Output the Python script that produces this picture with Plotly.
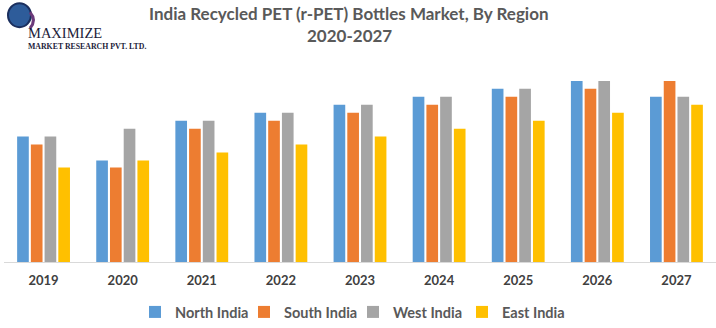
import plotly.graph_objects as go

years = ["2019", "2020", "2021", "2022", "2023", "2024", "2025", "2026", "2027"]
north = [126, 102, 142, 150, 158, 166, 174, 182, 166]
south = [118, 95, 134, 142, 150, 158, 166, 174, 182]
west = [126, 134, 142, 150, 158, 166, 174, 182, 166]
east = [95, 102, 110, 118, 126, 134, 142, 150, 158]

series = [
    ("North India", north, "#5B9BD5"),
    ("South India", south, "#ED7D31"),
    ("West India", west, "#A5A5A5"),
    ("East India", east, "#FFC000"),
]

fig = go.Figure()
for name, vals, col in series:
    fig.add_trace(go.Bar(x=years, y=vals, name=name, marker_color=col,
                         marker_line_width=0))

txt = "#595959"
fig.update_layout(
    width=716, height=328,
    margin=dict(l=4, r=0, t=60, b=65),
    paper_bgcolor="white", plot_bgcolor="white",
    barmode="group", bargap=0.306, bargroupgap=0.15,
    showlegend=True,
    legend=dict(orientation="h", x=0.184, xanchor="left", y=-0.246, yanchor="middle",
                font=dict(family="Lato", size=14.5, color=txt, weight="bold"),
                traceorder="normal", entrywidth=64, entrywidthmode="pixels",
                bgcolor="rgba(0,0,0,0)"),
    xaxis=dict(showgrid=False, showline=True, linecolor="#D9D9D9", linewidth=1,
               ticks="outside", ticklen=6, tickcolor="rgba(0,0,0,0)",
               tickfont=dict(family="Lato", size=13, color="#404040", weight="bold")),
    yaxis=dict(range=[0, 203], visible=False, showgrid=False),
    font=dict(family="Lato"),
)

fig.add_annotation(text="India Recycled PET (r-PET) Bottles Market, By Region",
                   xref="paper", yref="paper", x=(349 - 4) / 712, y=(263 - 13) / 203,
                   xanchor="center", yanchor="middle", showarrow=False,
                   font=dict(family="Lato", size=17, color=txt, weight="bold"))
fig.add_annotation(text="2020-2027",
                   xref="paper", yref="paper", x=(349 - 4) / 712, y=(263 - 35) / 203,
                   xanchor="center", yanchor="middle", showarrow=False,
                   font=dict(family="Lato", size=17, color=txt, weight="bold"))

# logo
fig.add_shape(type="circle", xref="paper", yref="paper",
              x0=(8 - 4) / 712, x1=(31 - 4) / 712, y0=(263 - 27) / 203, y1=(263 - 3) / 203,
              fillcolor="#2E5C9A", line=dict(color="#1B2F5E", width=2))
fig.add_shape(type="path", xref="paper", yref="paper",
              path="M {:.4f} {:.4f} Q {:.4f} {:.4f} {:.4f} {:.4f}".format(
                  (30 - 4) / 712, (263 - 12) / 203,
                  (37 - 4) / 712, (263 - 20) / 203,
                  (30 - 4) / 712, (263 - 28) / 203),
              line=dict(color="#6B3A7A", width=3))
fig.add_annotation(text="MAXIMIZE", xref="paper", yref="paper",
                   x=(26 - 4) / 712, y=(263 - 33) / 203, xanchor="left", yanchor="middle",
                   showarrow=False,
                   font=dict(family="Liberation Serif", size=14.5, color="#1C1C3A"))
fig.add_annotation(text="MARKET RESEARCH PVT. LTD.", xref="paper", yref="paper",
                   x=(26 - 4) / 712, y=(263 - 46) / 203, xanchor="left", yanchor="middle",
                   showarrow=False,
                   font=dict(family="Liberation Serif", size=7.8, color="#1C1C3A", weight="bold"))

fig.write_html("out.html")
